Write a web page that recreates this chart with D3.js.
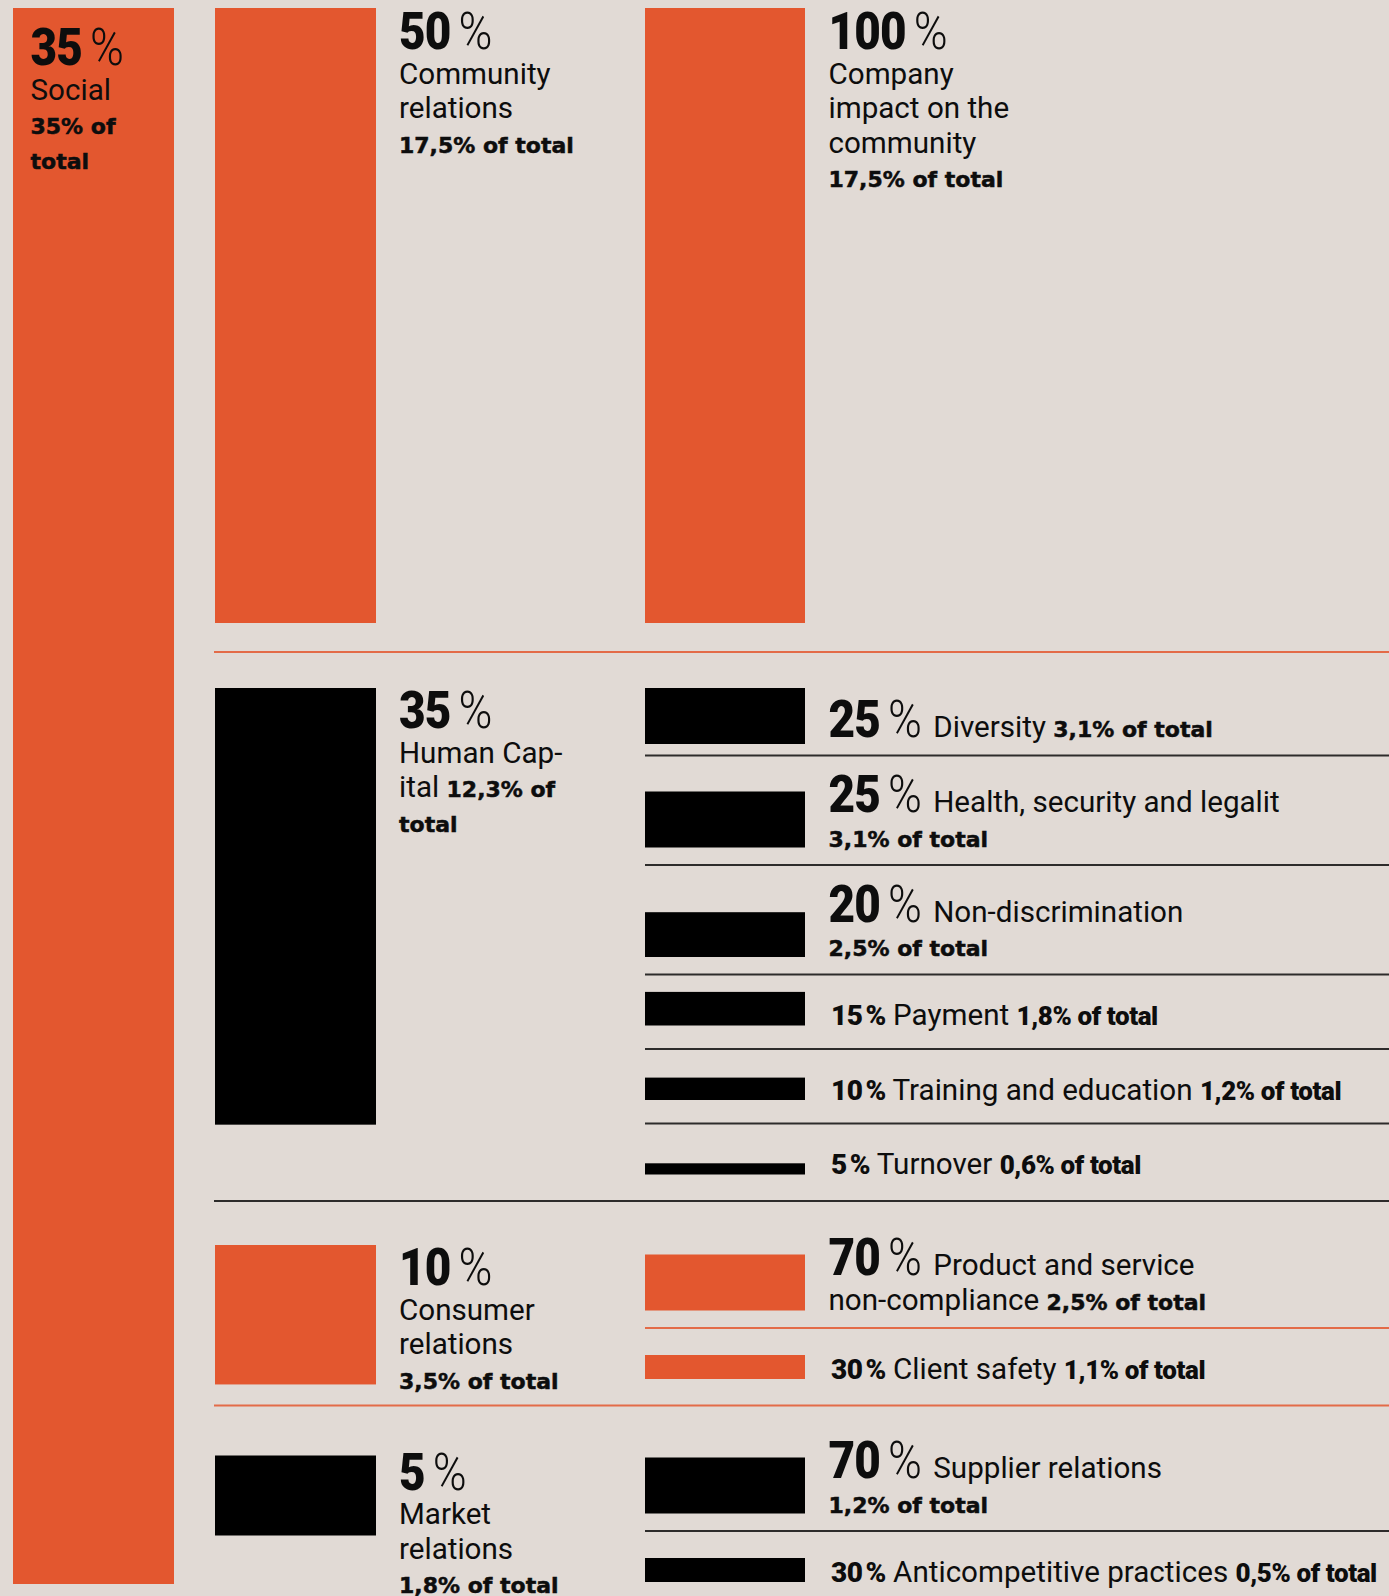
<!DOCTYPE html>
<html>
<head>
<meta charset="utf-8">
<script src="https://cdn.jsdelivr.net/npm/d3@7"></script>
<style>
  html, body { margin: 0; padding: 0; background: #e1dad5; }
  svg { display: block; }
  text { white-space: pre; fill: #0d0d0d; }
  .name  { font: 400 29.6px Roboto, sans-serif; }
  .tot   { font: 700 22px "DejaVu Sans", sans-serif; stroke: #0d0d0d; stroke-width: 0.5px; }
  .tot-c { font: 900 26px Roboto, sans-serif; letter-spacing: -0.4px; }
  .fig-n { font: 900 51px Roboto, sans-serif; letter-spacing: -1px; }
  .fig-p { font: 300 51px Roboto, sans-serif; }
  .fig-c { font: 900 28px Roboto, sans-serif; letter-spacing: -0.5px; }
</style>
</head>
<body>
<svg width="1389" height="1596"></svg>
<script>
// top level: Social, share of the whole score
const topShare = 35;
const topText = "Social|*35% of*|*total*";

// groups inside Social (share of Social)
const groupShare = [50, 35, 10, 5];
const groupText = [
  "Community|relations|*17,5% of total*",
  "Human Cap-|ital *12,3% of*|*total*",
  "Consumer|relations|*3,5% of total*",
  "Market|relations|*1,8% of total*"
];

// items inside each group (share of the group)
const subGroup = [0, 1, 1, 1, 1, 1, 1, 2, 2, 3, 3];
const subShare = [100, 25, 25, 20, 15, 10, 5, 70, 30, 70, 30];
const subText = [
  "Company|impact on the|community|*17,5% of total*",
  "Diversity *3,1% of total*",
  "Health, security and legalit|*3,1% of total*",
  "Non-discrimination|*2,5% of total*",
  "Payment *1,8% of total*",
  "Training and education *1,2% of total*",
  "Turnover *0,6% of total*",
  "Product and service|non-compliance *2,5% of total*",
  "Client safety *1,1% of total*",
  "Supplier relations|*1,2% of total*",
  "Anticompetitive practices *0,5% of total*"
];

const svg = d3.select("svg");
const width = +svg.attr("width");
const height = +svg.attr("height");

const ORANGE = "#e3572f";
const BLACK = "#000000";

// layout
const TOP = 8;
const LH = 34.5;
const BIG_PAD = 56.5;
const SMALL_PAD = 50.5;
const ROW_GAP = 18.5;
const SMALL_GAP = 24;
const END_GAP = 3;
const groupLead = [0, 28.5, 17.5, 16];
const groupDrop = [0, 36, 44, 50];
const barW = 161;

const color = d3.scaleOrdinal().domain(d3.range(groupShare.length)).range([ORANGE, BLACK]);
const colX = d3.scaleOrdinal().domain(["top", "group", "sub"]).range([13, 215, 645]);
const textX = d3.scaleOrdinal().domain(["top", "group", "sub"]).range([30.5, 399, 828.5]);
const groupH = d3.scaleLinear().domain([5, 50]).range([80, 615]);

svg.append("rect")
  .attr("width", width)
  .attr("height", height)
  .attr("fill", "#e1dad5");

const gLines = svg.append("g");
const gBars = svg.append("g");
const gText = svg.append("g");

function drawFigure(x, y, pct, compact) {
  const sx = compact ? 1 : 0.9;
  const t = gText.append("text")
    .attr("transform", `translate(${x},${y}) scale(${sx},1)`);
  t.append("tspan").attr("class", compact ? "fig-c" : "fig-n").text(pct);
  t.append("tspan").attr("class", compact ? "fig-c" : "fig-p")
    .attr("dx", compact ? 3 : 9).text("%");
  const bb = t.node().getBBox();
  return (bb.x + bb.width) * sx;
}

function drawLine(x, y, str, compact) {
  const t = gText.append("text").attr("x", x).attr("y", y);
  str.split("*").forEach((s, i) => {
    if (!s) return;
    t.append("tspan")
      .attr("class", i % 2 ? (compact ? "tot-c" : "tot") : "name")
      .text(s);
  });
}

function drawBlock(x, base, pct, text, mode) {
  const lines = text.split("|");
  if (mode === "stack") {
    drawFigure(x, base, pct, false);
    lines.forEach((l, i) => drawLine(x, base + (i + 1) * LH, l, false));
  } else {
    const compact = mode === "compact";
    const w = drawFigure(x, base, pct, compact);
    drawLine(x + w + (compact ? 0 : 4), base, " " + lines[0], compact);
    lines.slice(1).forEach((l, i) => drawLine(x, base + (i + 1) * LH, l, false));
  }
}

function bar(level, y, h, fill) {
  gBars.append("rect")
    .attr("x", colX(level))
    .attr("y", y)
    .attr("width", level === "sub" ? barW - 1 : barW)
    .attr("height", h)
    .attr("fill", fill);
}

function rule(x1, y, stroke) {
  gLines.append("line")
    .attr("x1", x1).attr("x2", width)
    .attr("y1", y).attr("y2", y)
    .attr("stroke", stroke)
    .attr("stroke-opacity", stroke === ORANGE ? 0.85 : 0.8)
    .attr("stroke-width", 2);
}

let divider = 0;
let lastBottom = TOP;

groupShare.forEach((share, gi) => {
  const subs = d3.range(subShare.length).filter(i => subGroup[i] === gi);
  const gh = groupH(share);

  if (subs.length === 1) {
    const si = subs[0];
    bar("group", TOP, gh, color(gi));
    bar("sub", TOP, gh, color(gi));
    drawBlock(textX("group"), TOP + 41, share, groupText[gi], "stack");
    drawBlock(textX("sub"), TOP + 41, subShare[si], subText[si], "stack");
    lastBottom = TOP + gh;
    divider = lastBottom + 29;
    return;
  }

  rule(colX("group") - 1, divider, color(gi - 1));
  const gTop = divider + groupDrop[gi];
  bar("group", gTop, gh, color(gi));
  // keep the label block inside the picture
  const nGroupLines = groupText[gi].split("|").length;
  const gBase = Math.min(gTop + 40, height - 3 - nGroupLines * LH);
  drawBlock(textX("group"), gBase, share, groupText[gi], "stack");

  const subH = d3.scaleLinear()
    .domain([0, d3.max(subs, i => subShare[i])])
    .range([0, 56]);

  let d = divider;
  subs.forEach((si, k) => {
    const h = subH(subShare[si]);
    const compact = h < 40;
    const nLines = subText[si].split("|").length;
    if (k > 0) rule(colX("sub"), d, color(gi));
    const base = d + (compact ? SMALL_PAD : BIG_PAD) + (k === 0 ? groupLead[gi] : 0);
    const lastBase = base + (nLines - 1) * LH;
    const top = Math.max(lastBase + (compact ? 0.5 : 1) - h, gTop);
    bar("sub", top, h, color(gi));
    drawBlock(compact ? textX("sub") + 2.5 : textX("sub"), base, subShare[si], subText[si],
      compact ? "compact" : "inline");
    lastBottom = top + h;
    d = lastBase + (compact ? SMALL_GAP : ROW_GAP) + (k === subs.length - 1 ? END_GAP : 0);
  });
  divider = d;
});

// Social column spans the whole chart
bar("top", TOP, lastBottom - TOP + 2, ORANGE);
drawBlock(textX("top"), TOP + 57, topShare, topText, "stack");
</script>
</body>
</html>
